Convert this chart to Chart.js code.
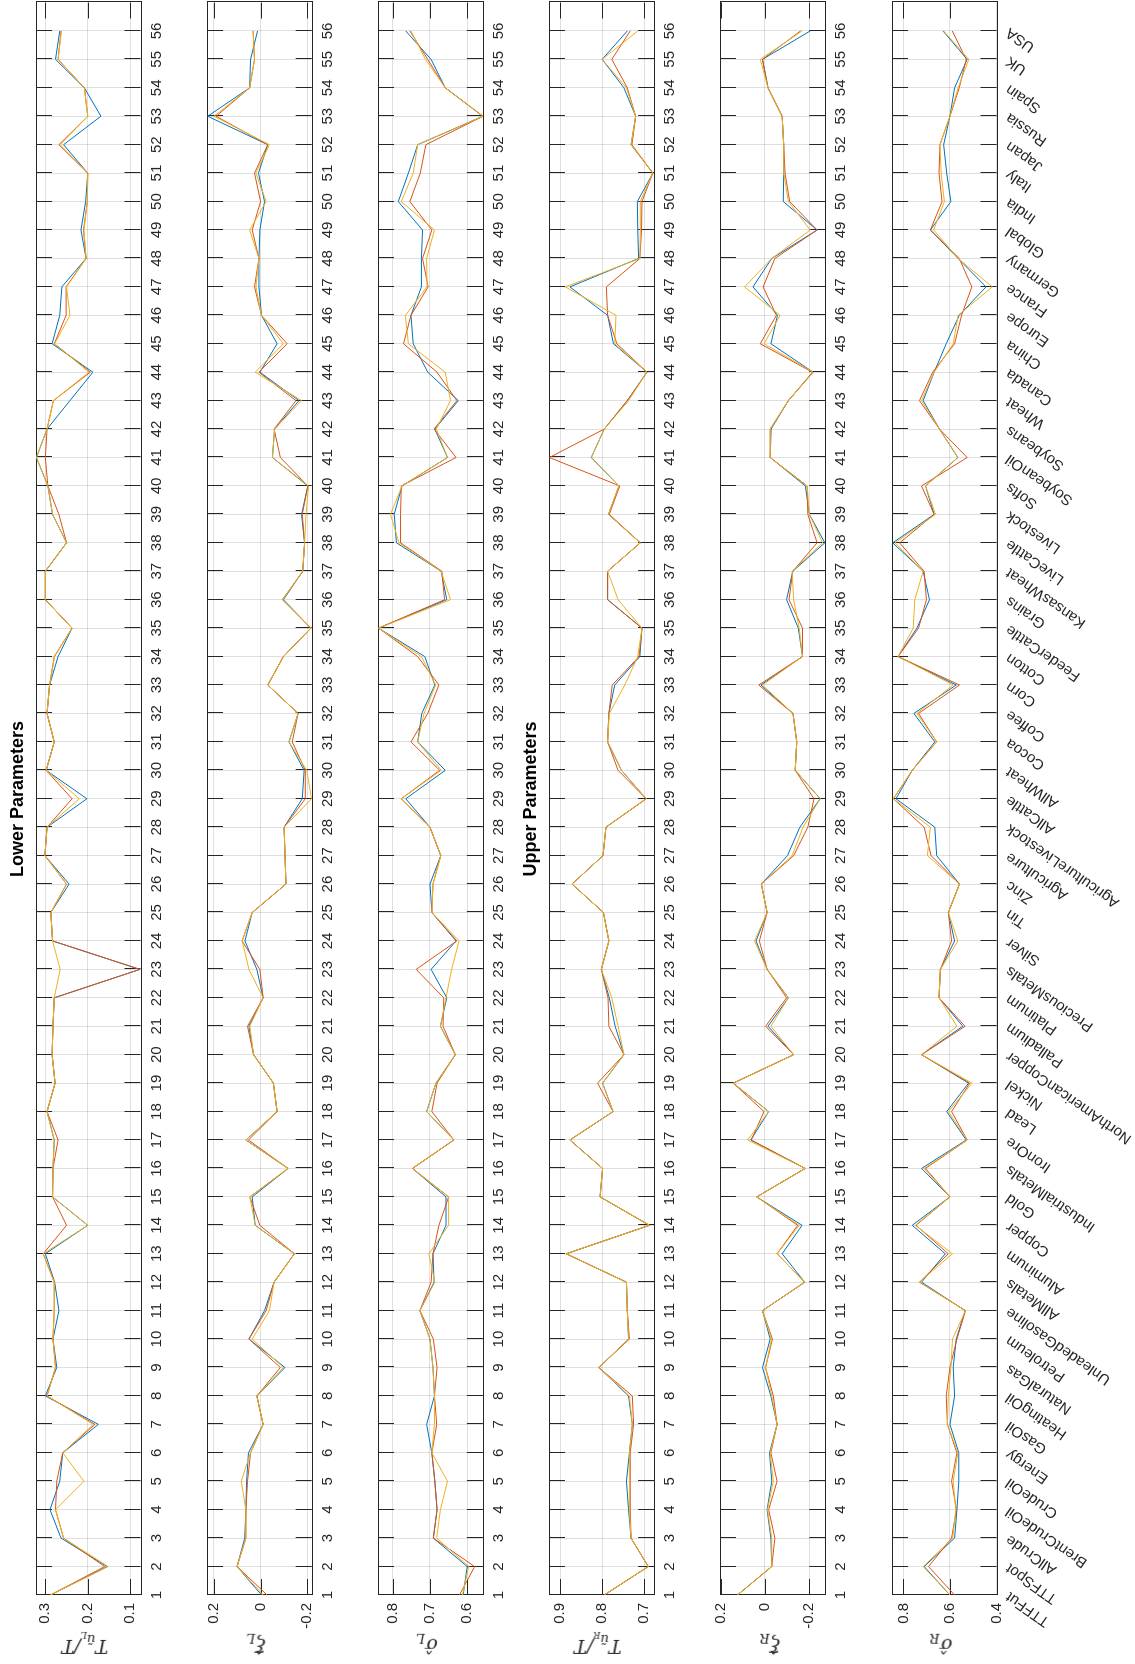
<!DOCTYPE html>
<html>
<head>
<meta charset="utf-8">
<title>Lower / Upper Parameters</title>
<script src="https://cdn.jsdelivr.net/npm/chart.js@4.4.1/dist/chart.umd.min.js"></script>
<style>
  html, body { margin: 0; padding: 0; background: #fff; }
  body { width: 1135px; height: 1664px; overflow: hidden; position: relative; }
  /* the figure is laid out landscape, then turned a quarter turn anticlockwise */
  #fig { position: absolute; left: 0; top: 0; width: 1664px; height: 1135px;
         transform-origin: 0 0; transform: translateY(1664px) rotate(-90deg); }
  #fig canvas { position: absolute; left: 0; }
  .ttl { position: absolute; font: bold 18px "Liberation Sans", Arial, sans-serif; color: #000;
         white-space: nowrap; transform: translate(-50%, -50%); }
  .ylab { position: absolute; font: italic 19px "DejaVu Serif", "Liberation Serif", serif; color: #262626;
          white-space: nowrap; transform: translate(-50%, -50%) rotate(-90deg); }
  .ylab sub { font-size: 70%; vertical-align: -0.35em; }
</style>
</head>
<body>
<div id="fig"></div>
<script>
// categories (x = 1..56)
const categories = ['TTFFut', 'TTFSpot', 'AllCrude', 'BrentCrudeOil', 'CrudeOil', 'Energy', 'GasOil',
  'HeatingOil', 'NaturalGas', 'Petroleum', 'UnleadedGasoline', 'AllMetals', 'Aluminum', 'Copper',
  'Gold', 'IndustrialMetals', 'IronOre', 'Lead', 'Nickel', 'NorthAmericanCopper', 'Palladium',
  'Platinum', 'PreciousMetals', 'Silver', 'Tin', 'Zinc', 'Agriculture', 'AgricultureLivestock',
  'AllCattle', 'AllWheat', 'Cocoa', 'Coffee', 'Corn', 'Cotton', 'FeederCattle', 'Grains',
  'KansasWheat', 'LiveCattle', 'Livestock', 'Softs', 'SoybeanOil', 'Soybeans', 'Wheat', 'Canada',
  'China', 'Europe', 'France', 'Germany', 'Global', 'India', 'Italy', 'Japan', 'Russia', 'Spain',
  'UK', 'USA'];
const xTickValues = categories.map((c, i) => i + 1);

// lower parameters
const tauL1 = [0.288,0.154,0.263,0.289,0.266,0.259,0.175,0.300,0.273,0.282,
  0.268,0.278,0.300,0.200,0.283,0.282,0.279,0.296,0.277,0.284,
  0.282,0.279,0.077,0.283,0.287,0.244,0.301,0.296,0.202,0.298,
  0.279,0.296,0.290,0.270,0.237,0.300,0.300,0.250,0.283,0.294,
  0.321,0.296,0.242,0.188,0.284,0.266,0.261,0.204,0.216,0.205,
  0.200,0.257,0.169,0.208,0.276,0.266];
const tauL2 = [0.288,0.160,0.257,0.276,0.273,0.259,0.183,0.296,0.276,0.282,
  0.279,0.279,0.305,0.250,0.283,0.282,0.270,0.296,0.277,0.284,
  0.282,0.279,0.077,0.283,0.287,0.250,0.301,0.296,0.237,0.298,
  0.279,0.296,0.290,0.279,0.237,0.300,0.300,0.250,0.268,0.294,
  0.300,0.296,0.281,0.194,0.279,0.251,0.251,0.204,0.210,0.201,
  0.200,0.268,0.200,0.208,0.270,0.263];
const tauL3 = [0.288,0.152,0.257,0.276,0.209,0.259,0.187,0.296,0.276,0.282,
  0.279,0.279,0.305,0.200,0.283,0.282,0.279,0.296,0.277,0.284,
  0.282,0.279,0.265,0.283,0.287,0.250,0.301,0.296,0.220,0.298,
  0.279,0.296,0.290,0.278,0.237,0.300,0.300,0.250,0.283,0.294,
  0.321,0.296,0.281,0.197,0.278,0.242,0.250,0.204,0.209,0.201,
  0.200,0.265,0.200,0.208,0.270,0.262];

const xiL1 = [-0.004,0.101,0.068,0.063,0.060,0.052,-0.011,0.016,-0.105,0.050,
  -0.017,-0.058,-0.145,0.023,0.036,-0.118,0.063,-0.071,-0.055,0.030,
  0.050,-0.011,0.016,0.067,0.036,-0.109,-0.105,-0.101,-0.179,-0.187,
  -0.122,-0.161,-0.031,-0.098,-0.216,-0.098,-0.181,-0.189,-0.176,-0.203,
  -0.051,-0.060,-0.165,0.003,-0.071,-0.004,0.007,0.007,0.003,-0.017,
  0.009,-0.031,0.227,0.047,0.043,0.013];
const xiL2 = [-0.028,0.101,0.063,0.063,0.056,0.043,-0.011,0.016,-0.085,0.050,
  -0.024,-0.058,-0.145,0.003,0.046,-0.118,0.052,-0.071,-0.055,0.030,
  0.056,-0.011,0.003,0.079,0.036,-0.109,-0.105,-0.101,-0.192,-0.192,
  -0.136,-0.161,-0.031,-0.098,-0.216,-0.094,-0.181,-0.189,-0.179,-0.203,
  -0.085,-0.058,-0.152,0.007,-0.114,-0.004,0.026,0.007,0.036,0.000,
  0.026,-0.031,0.191,0.047,0.026,0.032];
const xiL3 = [-0.011,0.101,0.063,0.063,0.083,0.043,-0.011,0.016,-0.098,0.036,
  -0.038,-0.058,-0.145,0.023,0.046,-0.118,0.063,-0.071,-0.055,0.030,
  0.046,-0.011,0.050,0.079,0.036,-0.109,-0.105,-0.101,-0.219,-0.198,
  -0.122,-0.161,-0.031,-0.098,-0.216,-0.094,-0.181,-0.189,-0.195,-0.206,
  -0.051,-0.060,-0.176,0.023,-0.098,-0.004,0.020,0.007,0.047,-0.024,
  0.020,-0.038,0.200,0.047,0.026,0.032];

const sigL1 = [0.611,0.600,0.691,0.681,0.687,0.695,0.709,0.688,0.692,0.700,
  0.727,0.689,0.692,0.657,0.657,0.747,0.636,0.709,0.684,0.632,
  0.672,0.655,0.697,0.630,0.695,0.700,0.671,0.700,0.765,0.659,
  0.733,0.722,0.687,0.714,0.838,0.655,0.670,0.790,0.796,0.775,
  0.653,0.687,0.624,0.706,0.745,0.751,0.723,0.723,0.720,0.785,
  0.758,0.733,0.558,0.659,0.697,0.765];
const sigL2 = [0.621,0.580,0.691,0.681,0.687,0.695,0.682,0.688,0.681,0.691,
  0.727,0.697,0.692,0.676,0.650,0.747,0.636,0.695,0.681,0.632,
  0.665,0.663,0.737,0.628,0.695,0.692,0.671,0.700,0.777,0.674,
  0.751,0.706,0.676,0.733,0.838,0.661,0.668,0.779,0.779,0.777,
  0.630,0.689,0.628,0.681,0.771,0.751,0.705,0.720,0.695,0.754,
  0.726,0.711,0.558,0.659,0.706,0.754];
const sigL3 = [0.613,0.596,0.682,0.672,0.653,0.695,0.688,0.688,0.692,0.700,
  0.727,0.687,0.703,0.650,0.650,0.747,0.636,0.709,0.684,0.632,
  0.672,0.657,0.642,0.622,0.695,0.692,0.671,0.700,0.777,0.670,
  0.733,0.716,0.685,0.723,0.838,0.645,0.670,0.783,0.806,0.775,
  0.653,0.683,0.645,0.659,0.758,0.766,0.708,0.709,0.688,0.777,
  0.745,0.733,0.558,0.659,0.712,0.751];

// upper parameters
const tauR1 = [0.795,0.690,0.731,0.737,0.742,0.735,0.728,0.737,0.808,0.737,
  0.740,0.742,0.886,0.687,0.805,0.799,0.877,0.774,0.799,0.748,
  0.769,0.783,0.802,0.784,0.797,0.872,0.798,0.791,0.695,0.754,
  0.787,0.784,0.770,0.710,0.705,0.787,0.787,0.709,0.785,0.760,
  0.826,0.795,0.740,0.693,0.773,0.787,0.877,0.713,0.715,0.716,
  0.679,0.731,0.720,0.748,0.800,0.740];
const tauR2 = [0.795,0.690,0.731,0.733,0.733,0.733,0.725,0.728,0.808,0.735,
  0.740,0.742,0.886,0.687,0.805,0.799,0.877,0.774,0.811,0.748,
  0.784,0.786,0.802,0.784,0.797,0.872,0.798,0.791,0.695,0.762,
  0.787,0.784,0.776,0.712,0.705,0.787,0.787,0.709,0.783,0.758,
  0.926,0.795,0.740,0.693,0.765,0.787,0.790,0.710,0.706,0.705,
  0.679,0.729,0.720,0.740,0.777,0.733];
const tauR3 = [0.795,0.690,0.731,0.735,0.735,0.735,0.728,0.735,0.808,0.737,
  0.740,0.742,0.886,0.687,0.805,0.799,0.877,0.774,0.799,0.748,
  0.762,0.777,0.802,0.784,0.797,0.872,0.798,0.791,0.695,0.754,
  0.787,0.783,0.746,0.715,0.705,0.762,0.787,0.709,0.785,0.760,
  0.826,0.795,0.737,0.693,0.770,0.767,0.888,0.710,0.709,0.709,
  0.679,0.731,0.720,0.742,0.800,0.715];

const xiR1 = [0.124,-0.031,-0.027,-0.010,-0.031,-0.021,-0.055,-0.027,0.011,-0.024,
  0.011,-0.180,-0.078,-0.168,0.037,-0.182,0.064,-0.017,0.143,-0.130,
  -0.014,-0.106,-0.010,0.040,-0.010,0.016,-0.102,-0.158,-0.250,-0.137,
  -0.144,-0.127,0.018,-0.170,-0.151,-0.098,-0.126,-0.271,-0.201,-0.183,
  -0.024,-0.028,-0.106,-0.218,-0.027,-0.057,0.054,-0.031,-0.236,-0.083,
  -0.085,-0.085,-0.078,-0.014,0.011,-0.205];
const xiR2 = [0.124,-0.031,-0.045,-0.017,-0.055,-0.027,-0.055,-0.038,-0.003,-0.034,
  0.011,-0.180,-0.055,-0.148,0.037,-0.182,0.062,0.004,0.143,-0.130,
  -0.003,-0.098,-0.010,0.025,-0.010,0.016,-0.130,-0.194,-0.222,-0.137,
  -0.144,-0.127,0.028,-0.170,-0.170,-0.109,-0.126,-0.236,-0.194,-0.191,
  -0.024,-0.024,-0.106,-0.215,0.021,-0.052,0.008,-0.045,-0.236,-0.112,
  -0.091,-0.085,-0.078,-0.014,0.011,-0.161];
const xiR3 = [0.124,-0.031,-0.031,-0.012,-0.038,-0.024,-0.055,-0.031,-0.003,-0.030,
  0.011,-0.180,-0.055,-0.155,0.037,-0.182,0.078,-0.017,0.143,-0.130,
  -0.027,-0.106,-0.010,0.047,-0.010,0.016,-0.123,-0.172,-0.250,-0.137,
  -0.144,-0.127,0.011,-0.170,-0.155,-0.130,-0.123,-0.261,-0.201,-0.191,
  -0.024,-0.024,-0.106,-0.218,0.004,-0.069,0.092,-0.031,-0.205,-0.106,
  -0.085,-0.085,-0.078,-0.014,0.021,-0.168];

const sigR1 = [0.600,0.711,0.580,0.570,0.562,0.562,0.600,0.580,0.586,0.573,
  0.535,0.722,0.620,0.762,0.600,0.722,0.530,0.614,0.520,0.722,
  0.545,0.647,0.641,0.580,0.607,0.559,0.657,0.665,0.832,0.762,
  0.665,0.755,0.573,0.823,0.742,0.688,0.715,0.846,0.668,0.705,
  0.566,0.645,0.715,0.668,0.616,0.560,0.445,0.565,0.684,0.596,
  0.614,0.627,0.600,0.580,0.526,0.630];
const sigR2 = [0.580,0.692,0.593,0.572,0.593,0.570,0.611,0.616,0.600,0.570,
  0.533,0.731,0.607,0.746,0.600,0.705,0.526,0.593,0.515,0.722,
  0.535,0.647,0.641,0.593,0.607,0.559,0.681,0.711,0.843,0.762,
  0.657,0.735,0.559,0.823,0.735,0.701,0.711,0.816,0.668,0.722,
  0.526,0.645,0.731,0.674,0.580,0.550,0.506,0.560,0.684,0.634,
  0.647,0.643,0.600,0.560,0.530,0.590];
const sigR3 = [0.600,0.715,0.588,0.575,0.586,0.566,0.611,0.607,0.596,0.589,
  0.533,0.731,0.589,0.749,0.600,0.711,0.526,0.607,0.505,0.722,
  0.570,0.647,0.641,0.566,0.607,0.559,0.697,0.684,0.843,0.762,
  0.657,0.742,0.586,0.823,0.758,0.751,0.715,0.836,0.662,0.705,
  0.566,0.645,0.722,0.668,0.586,0.565,0.418,0.565,0.670,0.624,
  0.638,0.643,0.600,0.565,0.519,0.627];

// y tick values
const tauLTicks = [0.1, 0.2, 0.3];
const xiLTicks = [-0.2, 0, 0.2];
const sigLTicks = [0.6, 0.7, 0.8];
const tauRTicks = [0.7, 0.8, 0.9];
const xiRTicks = [-0.2, 0, 0.2];
const sigRTicks = [0.4, 0.6, 0.8];

const seriesColors = ['#0072BD', '#D95319', '#EDB120'];
const axisColor = '#262626';
const gridColor = 'rgba(38,38,38,0.15)';

const panels = [
  { series: [tauL1, tauL2, tauL3], min: 0.0757, max: 0.322, ticks: tauLTicks,
    label: '<i>T</i><sub>ũ<sub>L</sub></sub>/<i>T</i>' },
  { series: [xiL1, xiL2, xiL3], min: -0.2195, max: 0.23, ticks: xiLTicks,
    label: 'ξ&#770;<sub>L</sub>' },
  { series: [sigL1, sigL2, sigL3], min: 0.558, max: 0.8395, ticks: sigLTicks,
    label: 'σ&#770;<sub>L</sub>' },
  { series: [tauR1, tauR2, tauR3], min: 0.676, max: 0.927, ticks: tauRTicks,
    label: '<i>T</i><sub>ũ<sub>R</sub></sub>/<i>T</i>' },
  { series: [xiR1, xiR2, xiR3], min: -0.273, max: 0.203, ticks: xiRTicks,
    label: 'ξ&#770;<sub>R</sub>' },
  { series: [sigR1, sigR2, sigR3], min: 0.4, max: 0.849, ticks: sigRTicks,
    label: 'σ&#770;<sub>R</sub>' }
];

// layout of the landscape figure
const FIG_W = 1664, FIG_H = 1135;
const PANEL_TOPS = [29, 200.2, 371.4, 542.6, 713.8, 885];
const PANEL_H = 111.5;
const TICK_LEN = 16;

// box round the axes plus inward tick marks on all four sides
const boxTicks = {
  id: 'boxTicks',
  beforeDatasetsDraw(chart) {
    const { ctx, chartArea: a, scales: { x, y } } = chart;
    const c = v => Math.round(v) + 0.5;
    ctx.save();
    ctx.strokeStyle = axisColor;
    ctx.lineWidth = 1;
    ctx.beginPath();
    x.ticks.forEach(t => {
      const px = c(x.getPixelForValue(t.value));
      ctx.moveTo(px, a.top); ctx.lineTo(px, a.top + TICK_LEN);
      ctx.moveTo(px, a.bottom); ctx.lineTo(px, a.bottom - TICK_LEN);
    });
    y.ticks.forEach(t => {
      const py = c(y.getPixelForValue(t.value));
      ctx.moveTo(a.left, py); ctx.lineTo(a.left + TICK_LEN, py);
      ctx.moveTo(a.right, py); ctx.lineTo(a.right - TICK_LEN, py);
    });
    ctx.stroke();
    ctx.strokeRect(c(a.left), c(a.top), Math.round(a.right - a.left), Math.round(a.bottom - a.top));
    ctx.restore();
  }
};

const fmt = v => (Math.abs(v) < 1e-9 ? '0' : String(+v.toFixed(1)));
const fig = document.getElementById('fig');

panels.forEach((p, i) => {
  const last = i === panels.length - 1;
  const top = PANEL_TOPS[i];
  const canvasTop = Math.floor(top) - 10;
  const padTop = top - canvasTop;
  const canvasH = last ? FIG_H - canvasTop : Math.round(padTop + PANEL_H + 40);
  const xAxisH = canvasH - padTop - PANEL_H;

  const cv = document.createElement('canvas');
  cv.width = FIG_W;
  cv.height = canvasH;
  cv.style.top = canvasTop + 'px';
  cv.style.width = FIG_W + 'px';
  cv.style.height = canvasH + 'px';
  fig.appendChild(cv);

  new Chart(cv, {
    type: 'line',
    data: {
      datasets: p.series.map((s, j) => ({
        data: s.map((v, k) => ({ x: k + 1, y: v })),
        borderColor: seriesColors[j],
        borderWidth: 1,
        pointRadius: 0,
        tension: 0,
        fill: false,
        order: 3 - j
      }))
    },
    options: {
      responsive: false,
      animation: false,
      devicePixelRatio: 1,
      layout: { padding: { top: padTop, right: 2.5, left: 0, bottom: 0 } },
      plugins: { legend: { display: false }, tooltip: { enabled: false } },
      scales: {
        x: {
          type: 'linear', bounds: 'data', min: 1, max: 57,
          afterBuildTicks: s => { s.ticks = xTickValues.map(v => ({ value: v })); },
          afterFit: s => { s.height = xAxisH; },
          grid: { color: gridColor, drawTicks: false },
          border: { display: false },
          ticks: {
            autoSkip: false,
            minRotation: last ? 55 : 0,
            maxRotation: last ? 55 : 0,
            padding: last ? 6 : 7,
            color: axisColor,
            font: { family: 'Liberation Sans', size: 15 },
            callback: v => (last ? categories[v - 1] : String(v))
          }
        },
        y: {
          type: 'linear', bounds: 'data', min: p.min, max: p.max,
          afterBuildTicks: s => { s.ticks = p.ticks.map(v => ({ value: v })); },
          afterFit: s => { s.width = 69; },
          grid: { color: gridColor, drawTicks: false },
          border: { display: false },
          ticks: {
            padding: 8,
            color: axisColor,
            font: { family: 'Liberation Sans', size: 15 },
            callback: v => fmt(v)
          }
        }
      }
    },
    plugins: [boxTicks]
  });

  const lab = document.createElement('div');
  lab.className = 'ylab';
  lab.innerHTML = p.label;
  lab.style.left = '20px';
  lab.style.top = (top + PANEL_H / 2) + 'px';
  fig.appendChild(lab);
});

// section titles
[['Lower Parameters', PANEL_TOPS[0] - 12], ['Upper Parameters', PANEL_TOPS[3] - 12.5]].forEach(([txt, y]) => {
  const t = document.createElement('div');
  t.className = 'ttl';
  t.textContent = txt;
  t.style.left = '865px';
  t.style.top = y + 'px';
  fig.appendChild(t);
});
</script>
</body>
</html>
